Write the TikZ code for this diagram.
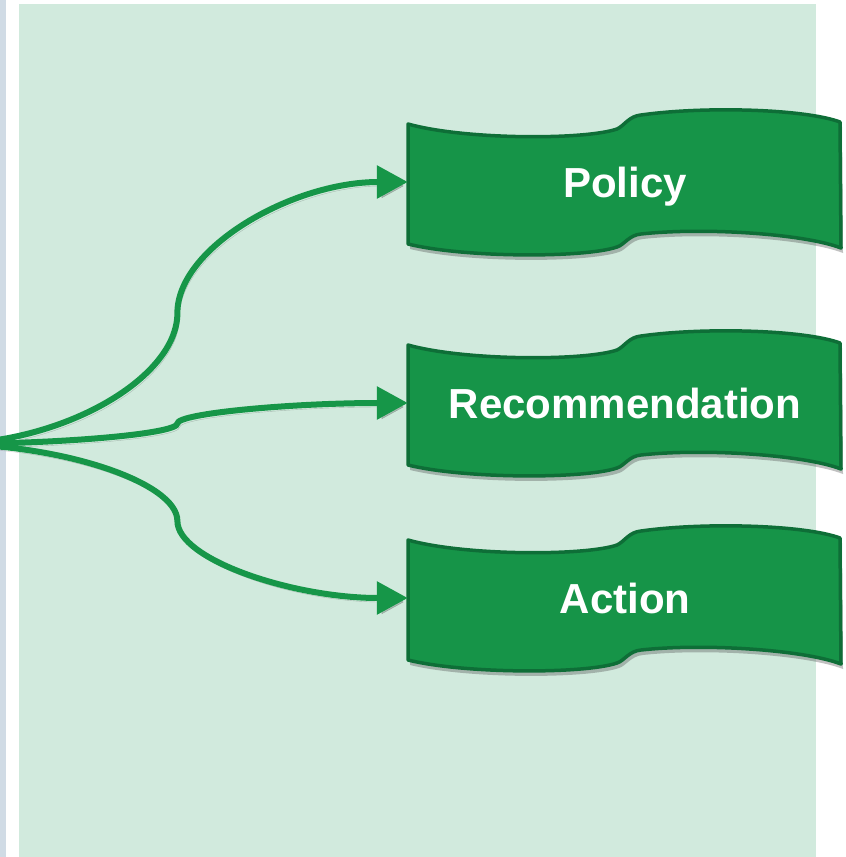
\documentclass[tikz,border=0pt]{standalone}
\usepackage{fontspec}
\setmainfont{Liberation Sans}
\usepackage{tikz}
\usetikzlibrary{arrows.meta,calc,shadows}
\definecolor{panelgreen}{RGB}{209,234,221}
\definecolor{sidebar}{RGB}{208,219,229}
\definecolor{ribbonfill}{RGB}{22,148,72}
\definecolor{ribbonline}{RGB}{14,110,55}
\definecolor{linkgreen}{RGB}{22,150,72}
\tikzset{
  ribbon/.style={fill=ribbonfill, draw=ribbonline, line width=3.5pt, line join=round,
    drop shadow={shadow xshift=2pt, shadow yshift=-5pt, opacity=0.35, fill=black!70}},
  tag/.style={text=white, font=\bfseries\fontsize{42}{50}\selectfont, text depth=0pt,
    minimum width=434pt, minimum height=120pt, inner sep=0pt},
  link/.style={draw=linkgreen, line width=6pt, -{Triangle[length=31pt,width=32pt]},
    preaction={draw=black, opacity=0.2, transform canvas={xshift=2pt,yshift=-4pt}}},
  elbow/.style={to path={let \p1=(\tikztostart), \p2=(\tikztotarget) in
    .. controls ({0.75*\x1+0.25*\x2},\y1) and ({0.5*\x1+0.5*\x2},{0.75*\y1+0.25*\y2})
    .. ({0.5*\x1+0.5*\x2},{0.5*\y1+0.5*\y2})
    .. controls ({0.5*\x1+0.5*\x2},{0.25*\y1+0.75*\y2}) and ({0.25*\x1+0.75*\x2},\y2)
    .. (\tikztotarget)}}
}
\begin{document}
\begin{tikzpicture}[x=1pt,y=-1pt]
        \useasboundingbox (0,0) rectangle (846,857);
        % Panel background
        \fill[sidebar] (0,0) rectangle (6,857);
        \fill[panelgreen] (19,4) rectangle (816,857);
        % Ribbons with their labels
        \foreach \name/\ypos/\txt in {policy/182/Policy, recommendation/403/Recommendation, action/598/Action}{
          \draw[ribbon, shift={(625,\ypos)}] (-217,-58)
            .. controls (-160,-42) and (-40,-42) .. (-8,-53)
            .. controls (-1,-56) and (4,-66) .. (16,-67)
            .. controls (80,-76) and (180,-73) .. (215,-60)
            -- (216,66)
            .. controls (180,52) and (80,45) .. (16,52)
            .. controls (4,53) and (-1,63) .. (-8,65)
            .. controls (-40,76) and (-160,76) .. (-217,62)
            -- cycle;
          \node[tag] (\name) at (625,\ypos) {\txt};
        }
        % Curved connectors from the left
        \coordinate (hub) at (-53,444);
        \draw[link] (hub) to[elbow] (policy.west);
        \draw[link] (hub) to[elbow] (recommendation.west);
        \draw[link] (hub) to[elbow] (action.west);
\end{tikzpicture}
\end{document}
